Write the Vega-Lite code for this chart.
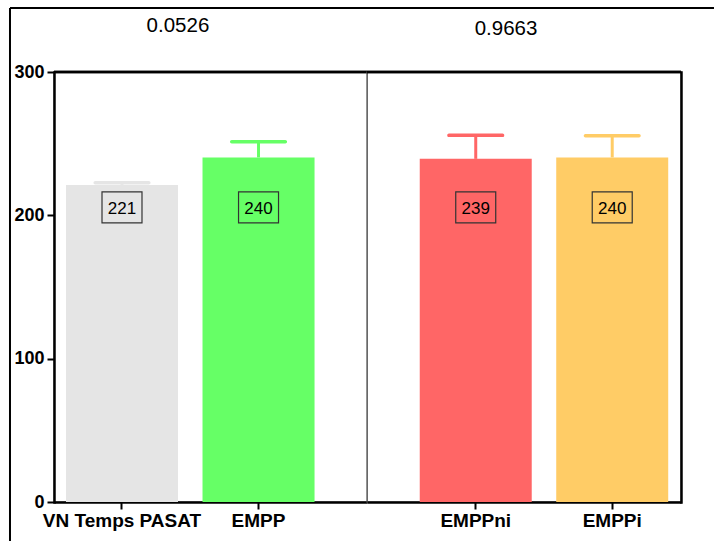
{
  "$schema": "https://vega.github.io/schema/vega-lite/v6.json",
  "padding": {"left": 8, "top": 6, "right": 0, "bottom": 0},
  "spacing": 0,
  "bounds": "flush",
  "background": "white",
  "datasets": {
    "bars": [
      {"cond": "VN Temps PASAT", "group": "A", "mean": 221.2, "upper": 222.8},
      {"cond": "EMPP", "group": "A", "mean": 240.4, "upper": 251.4},
      {"cond": "EMPPni", "group": "B", "mean": 239.4, "upper": 255.8},
      {"cond": "EMPPi", "group": "B", "mean": 240.4, "upper": 255.6}
    ],
    "pvals": [
      {"group": "A", "p": 0.0526},
      {"group": "B", "p": 0.9663}
    ]
  },
  "resolve": {"scale": {"y": "independent", "x": "independent"}},
  "hconcat": [
    {
      "width": 313,
      "height": 430,
      "resolve": {"scale": {"x": "independent"}, "axis": {"x": "independent"}},
      "layer": [
        {
          "data": {"name": "bars"},
          "transform": [{"filter": "datum.group === 'A'"}],
          "encoding": {
            "x": {
              "field": "cond", "type": "nominal", "sort": null,
              "scale": {"domain": ["VN Temps PASAT", "EMPP"], "paddingInner": 0.1795, "paddingOuter": 0.236, "align": 0.186},
              "axis": {"title": null, "labelAngle": 0, "labelFontSize": 19, "labelFontWeight": "bold", "labelPadding": 2, "tickSize": 7, "tickWidth": 2, "domainWidth": 2.5, "labelLimit": 400}
            },
            "y": {
              "field": "mean", "type": "quantitative",
              "scale": {"domain": [0, 300], "nice": false},
              "axis": {"title": null, "values": [0, 100, 200, 300], "grid": false, "labelFontSize": 18, "labelFontWeight": "bold", "labelPadding": 3, "tickSize": 7, "tickWidth": 2, "domainWidth": 2.5, "domainCap": "square"}
            }
          },
          "layer": [
            {
              "mark": {"type": "bar", "clip": false},
              "encoding": {
                "color": {"field": "cond", "type": "nominal", "scale": {"domain": ["VN Temps PASAT", "EMPP", "EMPPni", "EMPPi"], "range": ["#E5E5E5", "#66FF66", "#FF6666", "#FFCC66"]}, "legend": null}
              }
            },
            {
              "mark": {"type": "rule", "strokeWidth": 3},
              "encoding": {
                "y2": {"field": "upper"},
                "color": {"field": "cond", "type": "nominal", "scale": {"domain": ["VN Temps PASAT", "EMPP", "EMPPni", "EMPPi"], "range": ["#E5E5E5", "#66FF66", "#FF6666", "#FFCC66"]}, "legend": null}
              }
            },
            {
              "mark": {"type": "tick", "size": 57, "thickness": 3.5, "cornerRadius": 1.7, "opacity": 1},
              "encoding": {
                "y": {"field": "upper", "type": "quantitative"},
                "color": {"field": "cond", "type": "nominal", "scale": {"domain": ["VN Temps PASAT", "EMPP", "EMPPni", "EMPPi"], "range": ["#E5E5E5", "#66FF66", "#FF6666", "#FFCC66"]}, "legend": null}
              }
            },
            {
              "mark": {"type": "point", "shape": "M-1.29,-1H1.29V1H-1.29Z", "size": 961, "filled": false, "stroke": "#333333", "strokeWidth": 1.2, "opacity": 1},
              "encoding": {"y": {"datum": 205.5}}
            },
            {
              "mark": {"type": "text", "fontSize": 17, "font": "Liberation Sans", "baseline": "middle", "align": "center", "color": "black"},
              "encoding": {"y": {"datum": 204.5}, "text": {"field": "mean", "format": ".0f"}}
            },
            {
              "mark": {"type": "rule", "strokeWidth": 2.5, "color": "black"},
              "encoding": {"y": {"datum": 300}, "x": null}
            }
          ]
        },
        {
          "layer": [
            {
              "data": {"values": [{}]},
              "mark": {"type": "rule", "strokeWidth": 2, "color": "black", "clip": false},
              "encoding": {
                "x": {"datum": -0.1406, "type": "quantitative", "scale": {"domain": [0, 1]}, "axis": null},
                "y": {"datum": 344.65},
                "y2": {"datum": -27.2}
              }
            },
            {
              "data": {"values": [{}]},
              "mark": {"type": "rule", "strokeWidth": 2, "color": "black", "clip": false},
              "encoding": {
                "x": {"datum": -0.1406, "type": "quantitative", "scale": {"domain": [0, 1]}, "axis": null},
                "x2": {"datum": 2.1086},
                "y": {"datum": 344.65}
              }
            },
            {
              "data": {"name": "pvals"},
              "transform": [{"filter": "datum.group === 'A'"}],
              "mark": {"type": "text", "fontSize": 20.5, "font": "Liberation Sans", "baseline": "middle", "align": "center", "color": "black", "clip": false},
              "encoding": {
                "x": {"datum": 0.396, "type": "quantitative", "scale": {"domain": [0, 1]}, "axis": null},
                "y": {"datum": 332.4},
                "text": {"field": "p", "format": ".4f"}
              }
            }
          ]
        }
      ]
    },
    {
      "width": 314,
      "height": 430,
      "resolve": {"scale": {"x": "independent"}, "axis": {"x": "independent"}},
      "layer": [
        {
          "data": {"name": "bars"},
          "transform": [{"filter": "datum.group === 'B'"}],
          "encoding": {
            "x": {
              "field": "cond", "type": "nominal", "sort": null,
              "scale": {"domain": ["EMPPni", "EMPPi"], "paddingInner": 0.1795, "paddingOuter": 0.24, "align": 0.805},
              "axis": {"title": null, "labelAngle": 0, "labelFontSize": 19, "labelFontWeight": "bold", "labelPadding": 2, "tickSize": 7, "tickWidth": 2, "domainWidth": 2.5, "labelLimit": 400}
            },
            "y": {
              "field": "mean", "type": "quantitative",
              "scale": {"domain": [0, 300], "nice": false},
              "axis": {"title": null, "orient": "right", "labels": false, "ticks": false, "grid": false, "domainWidth": 2.5, "domainCap": "square"}
            }
          },
          "layer": [
            {
              "mark": {"type": "bar", "clip": false},
              "encoding": {
                "color": {"field": "cond", "type": "nominal", "scale": {"domain": ["VN Temps PASAT", "EMPP", "EMPPni", "EMPPi"], "range": ["#E5E5E5", "#66FF66", "#FF6666", "#FFCC66"]}, "legend": null}
              }
            },
            {
              "mark": {"type": "rule", "strokeWidth": 3},
              "encoding": {
                "y2": {"field": "upper"},
                "color": {"field": "cond", "type": "nominal", "scale": {"domain": ["VN Temps PASAT", "EMPP", "EMPPni", "EMPPi"], "range": ["#E5E5E5", "#66FF66", "#FF6666", "#FFCC66"]}, "legend": null}
              }
            },
            {
              "mark": {"type": "tick", "size": 57, "thickness": 3.5, "cornerRadius": 1.7, "opacity": 1},
              "encoding": {
                "y": {"field": "upper", "type": "quantitative"},
                "color": {"field": "cond", "type": "nominal", "scale": {"domain": ["VN Temps PASAT", "EMPP", "EMPPni", "EMPPi"], "range": ["#E5E5E5", "#66FF66", "#FF6666", "#FFCC66"]}, "legend": null}
              }
            },
            {
              "mark": {"type": "point", "shape": "M-1.29,-1H1.29V1H-1.29Z", "size": 961, "filled": false, "stroke": "#333333", "strokeWidth": 1.2, "opacity": 1},
              "encoding": {"y": {"datum": 205.5}}
            },
            {
              "mark": {"type": "text", "fontSize": 17, "font": "Liberation Sans", "baseline": "middle", "align": "center", "color": "black"},
              "encoding": {"y": {"datum": 204.5}, "text": {"field": "mean", "format": ".0f"}}
            },
            {
              "mark": {"type": "rule", "strokeWidth": 2.5, "color": "black"},
              "encoding": {"y": {"datum": 300}, "x": null}
            }
          ]
        },
        {
          "layer": [
            {
              "data": {"name": "pvals"},
              "transform": [{"filter": "datum.group === 'B'"}],
              "mark": {"type": "text", "fontSize": 20.5, "font": "Liberation Sans", "baseline": "middle", "align": "center", "color": "black", "clip": false},
              "encoding": {
                "x": {"datum": 0.4427, "type": "quantitative", "scale": {"domain": [0, 1]}, "axis": null},
                "y": {"datum": 330.3},
                "text": {"field": "p", "format": ".4f"}
              }
            }
          ]
        }
      ]
    }
  ],
  "config": {
    "view": {"stroke": "#666666", "strokeWidth": 1.3},
    "font": "Liberation Sans",
    "axis": {"labelFont": "Liberation Sans", "labelColor": "black", "tickColor": "black", "domainColor": "black", "labelOverlap": false}
  }
}
